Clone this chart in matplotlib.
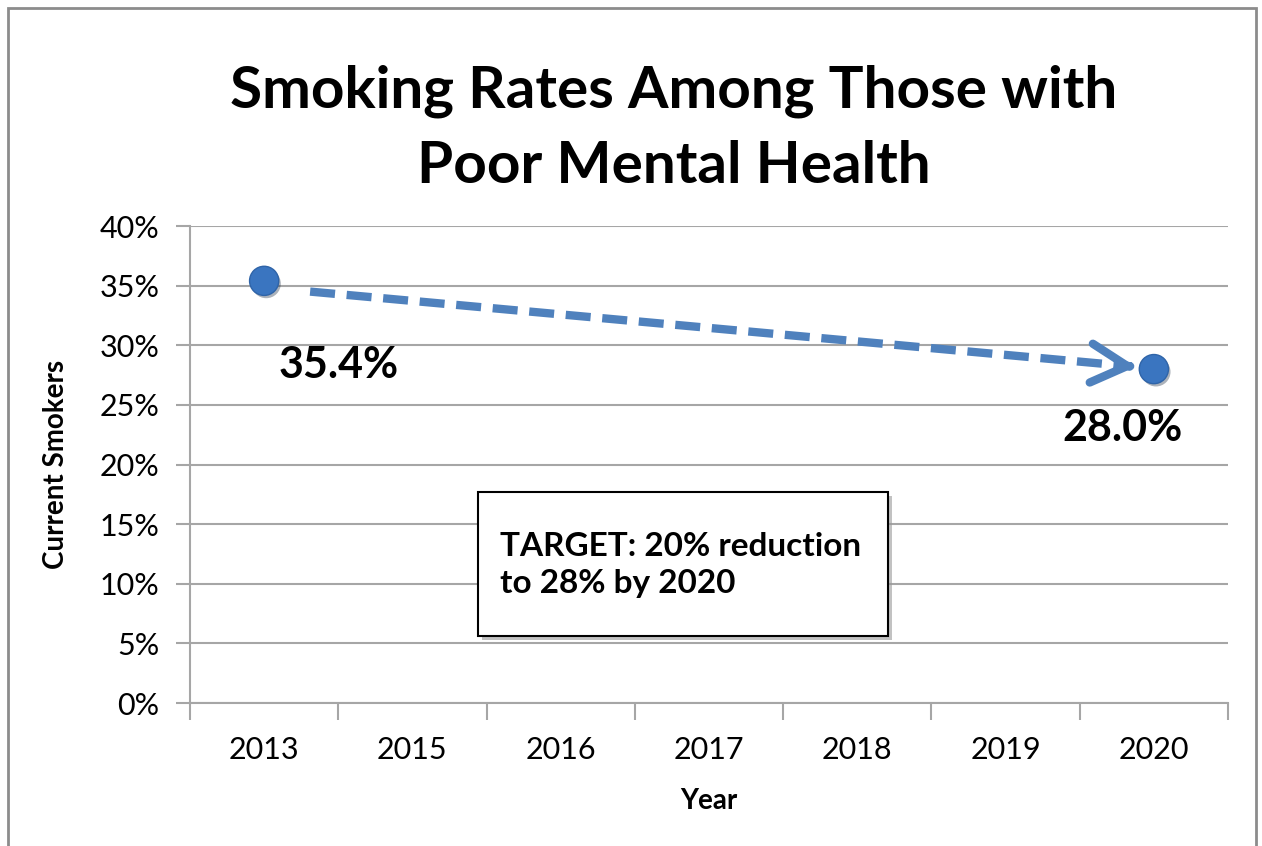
import matplotlib
matplotlib.use("Agg")
import matplotlib.pyplot as plt
import matplotlib.patheffects as pe
from matplotlib.patches import Rectangle
import numpy as np

# ---- data ----
YEARS = ["2013", "2015", "2016", "2017", "2018", "2019", "2020"]
POINT_YEARS = ["2013", "2020"]
RATES = [0.354, 0.280]
LABELS = ["35.4%", "28.0%"]
Y_TICKS = [0.00, 0.05, 0.10, 0.15, 0.20, 0.25, 0.30, 0.35, 0.40]
TITLE = "Smoking Rates Among Those with\nPoor Mental Health"
TARGET_TEXT = "TARGET: 20% reduction\nto 28% by 2020"

BLUE = "#4f81bd"
DOT = "#3a75c0"
GRID = "#a6a6a6"

plt.rcParams["font.family"] = ["Lato", "DejaVu Sans"]

W, H = 1262, 846
fig = plt.figure(figsize=(W / 100, H / 100), dpi=100)

# outer chart border
fig.patches.append(Rectangle((8 / W, -0.02), (1256 - 8) / W, 1.0 - 8 / H + 0.02,
                             transform=fig.transFigure, fill=False,
                             edgecolor="#8c8c8c", lw=2))

ax = fig.add_axes([190 / W, 143 / H, 1038 / W, 477 / H])
X = np.arange(len(YEARS))
ax.set_xlim(-0.5, len(YEARS) - 0.5)
ax.set_ylim(0, 0.40)

# gridlines
ax.set_yticks(Y_TICKS)
ax.set_yticklabels(["{:.0f}%".format(v * 100) for v in Y_TICKS], fontsize=22)
ax.yaxis.grid(True, color=GRID, lw=1.5)
ax.set_axisbelow(True)
for s in ["top", "right"]:
    ax.spines[s].set_visible(False)
for s in ["left", "bottom"]:
    ax.spines[s].set_color(GRID)
    ax.spines[s].set_linewidth(1.5)
ax.tick_params(axis="y", length=10, width=1.5, color=GRID, pad=12)

# category labels centered, tick marks between categories
ax.set_xticks(X)
ax.set_xticklabels(YEARS, fontsize=22)
ax.tick_params(axis="x", length=0, pad=24)
ax.set_xticks(np.arange(len(YEARS) + 1) - 0.5, minor=True)
ax.tick_params(axis="x", which="minor", length=12, width=1.5, color=GRID)

ax.set_xlabel("Year", fontsize=20, fontweight="bold", labelpad=17)
ax.set_ylabel("Current Smokers", fontsize=20, fontweight="bold", labelpad=22)

# points
px = [YEARS.index(y) for y in POINT_YEARS]
ax.plot(px, RATES, "o", ms=21, color=DOT, mec="#2f64a8", mew=1, zorder=5,
        path_effects=[pe.SimplePatchShadow(offset=(1.5, -2), alpha=0.35), pe.Normal()])

# data labels
ax.text(px[0] + 0.5, RATES[0] - 0.0706, LABELS[0], fontsize=31, fontweight="bold",
        ha="center", va="center")
ax.text(px[1] - 0.21, RATES[1] - 0.0494, LABELS[1], fontsize=31, fontweight="bold",
        ha="center", va="center")

# dashed trend arrow
start = (px[0] + 0.31, RATES[0] - 0.009)
end = (px[1] - 0.12, RATES[1] + 0.002)
ax.plot([start[0], end[0] - 0.03], [start[1], end[1] + 0.0003], color=BLUE, lw=6,
        linestyle=(0, (3.0, 1.4)), solid_capstyle="butt", dash_capstyle="butt", zorder=4)
ax.annotate("", xy=end, xytext=(end[0] - 0.05, end[1] + 0.0005),
            arrowprops=dict(arrowstyle="->,head_length=1.3,head_width=0.7",
                            color=BLUE, lw=6, mutation_scale=20,
                            shrinkA=0, shrinkB=0, joinstyle="round", capstyle="round"),
            zorder=4)

# target text box with shadow
bx0, bx1 = 0.2775, 0.6724
by0, by1 = 0.1405, 0.4423
ax.add_patch(Rectangle((bx0 + 0.004, by0 - 0.009), bx1 - bx0, by1 - by0,
                       transform=ax.transAxes, facecolor="#9a9a9a", edgecolor="none",
                       alpha=0.6, zorder=6))
ax.add_patch(Rectangle((bx0, by0), bx1 - bx0, by1 - by0, transform=ax.transAxes,
                       facecolor="white", edgecolor="black", lw=1.5, zorder=7))
ax.text(0.2987, 0.289, TARGET_TEXT, transform=ax.transAxes, fontsize=24,
        fontweight="bold", ha="left", va="center", linespacing=1.35, zorder=8)

fig.suptitle(TITLE, x=674 / W, y=1 - 65 / H, va="top", fontsize=42,
             fontweight="bold", linespacing=1.5)

fig.savefig("out.png", dpi=100)
